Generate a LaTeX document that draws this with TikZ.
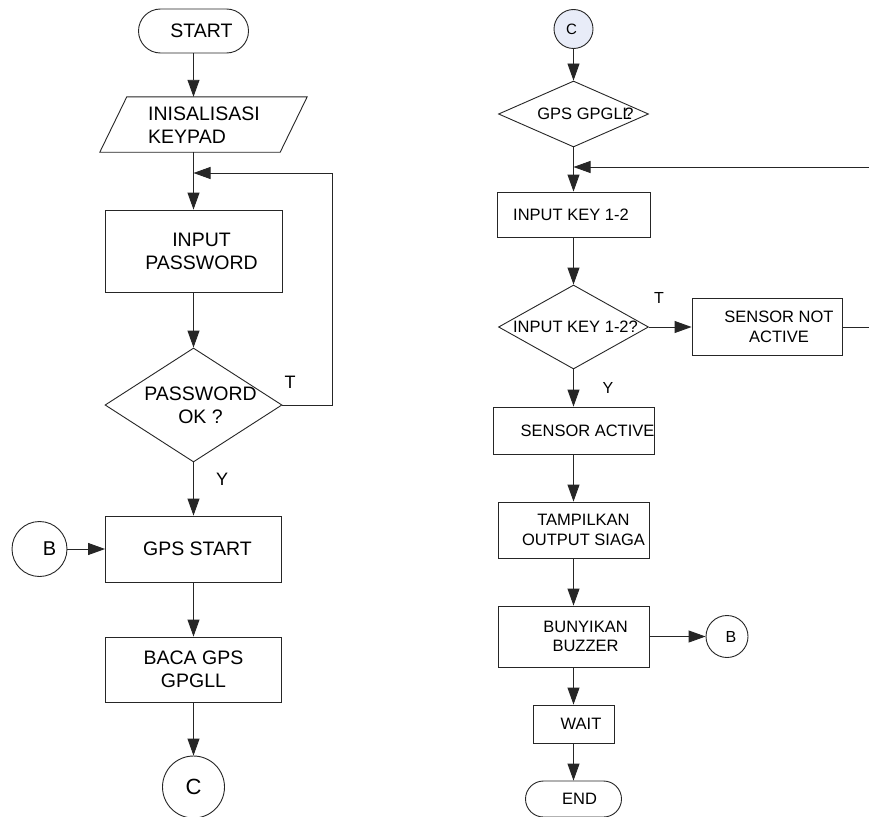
\documentclass[tikz,border=0pt]{standalone}
\usepackage{fontspec}
\setmainfont{Liberation Sans}
\usetikzlibrary{shapes.geometric,arrows.meta}
\definecolor{connfill}{HTML}{E8ECF8}
\begin{document}
\begin{tikzpicture}[x=1pt,y=-1pt,
  flow/.style={draw=black!85, line width=0.9pt},
  arr/.style={flow, -{Triangle[length=17pt,width=12pt]}},
  box/.style={flow, rectangle, inner sep=0pt, fill=white},
  dec/.style={flow, diamond, inner sep=0pt, fill=white},
  term/.style={flow, rectangle, inner sep=0pt, fill=white},
  conn/.style={flow, circle, inner sep=0pt, fill=white},
  bigtxt/.style={inner sep=0pt, align=center, font=\fontsize{19.5}{23}\selectfont},
  smalltxt/.style={inner sep=0pt, align=center, font=\fontsize{16.5}{19.5}\selectfont},
]
\useasboundingbox[fill=white] (0,0) rectangle (869,816);

% ---------- left column ----------
\node[term, rounded corners=22pt, minimum width=110pt, minimum height=44pt] (start) at (193.5,31) {};
\node[bigtxt] (start-t) at ([xshift=8pt]start) {START};

\node[rectangle, inner sep=0pt, minimum width=180pt, minimum height=55pt] (init) at (203.5,124.5) {};
\draw[flow, fill=white] ([xshift=-13.5pt]init.south west) -- ([xshift=13.5pt]init.north west)
  -- ([xshift=13.5pt]init.north east) -- ([xshift=-13.5pt]init.south east) -- cycle;
\node[bigtxt, align=left, anchor=west] (init-t) at (148,125) {INISALISASI\\KEYPAD};

\node[box, minimum width=177pt, minimum height=82pt] (pwd) at (193.5,251) {};
\node[bigtxt] (pwd-t) at ([xshift=8pt]pwd) {INPUT\\PASSWORD};

\node[dec, minimum width=177pt, minimum height=114pt] (d1) at (193.5,405) {};
\node[bigtxt] (d1-t) at ([xshift=7pt]d1) {PASSWORD\\OK ?};

\node[box, minimum width=176pt, minimum height=66pt] (gps) at (193.5,549) {};
\node[bigtxt] (gps-t) at ([xshift=4pt]gps) {GPS START};

\node[box, minimum width=176pt, minimum height=65pt] (baca) at (193.5,669.5) {};
\node[bigtxt] (baca-t) at (baca) {BACA GPS\\GPGLL};

\node[conn, minimum size=62pt] (cL) at (193.5,787) {};
\node[inner sep=0pt, font=\fontsize{22}{24}\selectfont] (cL-t) at (cL) {C};

\node[conn, minimum size=55pt] (bL) at (39.5,549) {};
\node[inner sep=0pt, font=\fontsize{20}{22}\selectfont] (bL-t) at ([xshift=10pt]bL) {B};

\coordinate (j1) at (193.5,173);
\draw[arr] (start) -- (start.south |- init.north);
\draw[arr] (start.south |- init.south) -- (pwd);
\draw[arr] (pwd) -- (d1);
\draw[arr] (d1.east) -- ++(50,0) |- (j1);
\draw[arr] (d1) -- (gps);
\draw[arr] (bL) -- (gps);
\draw[arr] (gps) -- (baca);
\draw[arr] (baca) -- (cL);

\node[inner sep=0pt, font=\fontsize{18}{20}\selectfont] (tL) at (290,382) {T};
\node[inner sep=0pt, font=\fontsize{18}{20}\selectfont] (yL) at (222,479) {Y};

% ---------- right column ----------
\node[conn, fill=connfill, minimum size=39pt] (cR) at (573.5,29) {};
\node[inner sep=0pt, font=\fontsize{15}{17}\selectfont] (cR-t) at ([xshift=-2pt]cR) {C};

\node[dec, minimum width=150pt, minimum height=66pt] (d2) at (573.5,114) {};
\node[smalltxt] (d2-t) at ([xshift=12pt]d2) {GPS GPGLL\kern-0.45em?};

\node[box, minimum width=153pt, minimum height=45pt] (key) at (573.5,214.5) {};
\node[smalltxt] (key-t) at ([xshift=-2.5pt]key) {INPUT KEY 1-2};

\node[dec, minimum width=150pt, minimum height=84pt] (d3) at (573.5,327) {};
\node[smalltxt] (d3-t) at ([xshift=2pt]d3) {INPUT KEY 1-2?};

\node[box, minimum width=150pt, minimum height=57pt] (notact) at (767,327) {};
\node[smalltxt] (notact-t) at ([xshift=12pt]notact) {SENSOR NOT\\ACTIVE};

\node[box, minimum width=161pt, minimum height=47pt] (sact) at (573.5,430.5) {};
\node[smalltxt] (sact-t) at ([xshift=14pt]sact) {SENSOR ACTIVE};

\node[box, minimum width=151pt, minimum height=56pt] (tamp) at (573.5,530) {};
\node[smalltxt] (tamp-t) at ([xshift=10pt]tamp) {TAMPILKAN\\OUTPUT SIAGA};

\node[box, minimum width=151pt, minimum height=61pt] (buny) at (573.5,636.5) {};
\node[smalltxt] (buny-t) at ([xshift=12pt]buny) {BUNYIKAN\\BUZZER};

\node[conn, minimum size=42pt] (bR) at (727,636.5) {};
\node[inner sep=0pt, font=\fontsize{16}{18}\selectfont] (bR-t) at ([xshift=4pt]bR) {B};

\node[box, minimum width=81pt, minimum height=38pt] (wait) at (573.5,724) {};
\node[smalltxt] (wait-t) at ([xshift=7.5pt]wait) {WAIT};

\node[term, rounded corners=18pt, minimum width=96pt, minimum height=36pt] (endn) at (573.5,799) {};
\node[smalltxt] (endn-t) at ([xshift=6pt]endn) {END};

\coordinate (j2) at (573.5,167);
\draw[arr] (cR) -- (d2);
\draw[arr] (d2) -- (key);
\draw[arr] (notact.east) -- ++(30,0) |- (j2);
\draw[arr] (key) -- (d3);
\draw[arr] (d3) -- (notact);
\draw[arr] (d3) -- (sact);
\draw[arr] (sact) -- (tamp);
\draw[arr] (tamp) -- (buny);
\draw[arr] (buny) -- (bR);
\draw[arr] (buny) -- (wait);
\draw[arr] (wait) -- (endn);

\node[inner sep=0pt, font=\fontsize{16}{18}\selectfont] (tR) at (659,298) {T};
\node[inner sep=0pt, font=\fontsize{16}{18}\selectfont] (yR) at (608,388) {Y};
\end{tikzpicture}
\end{document}
